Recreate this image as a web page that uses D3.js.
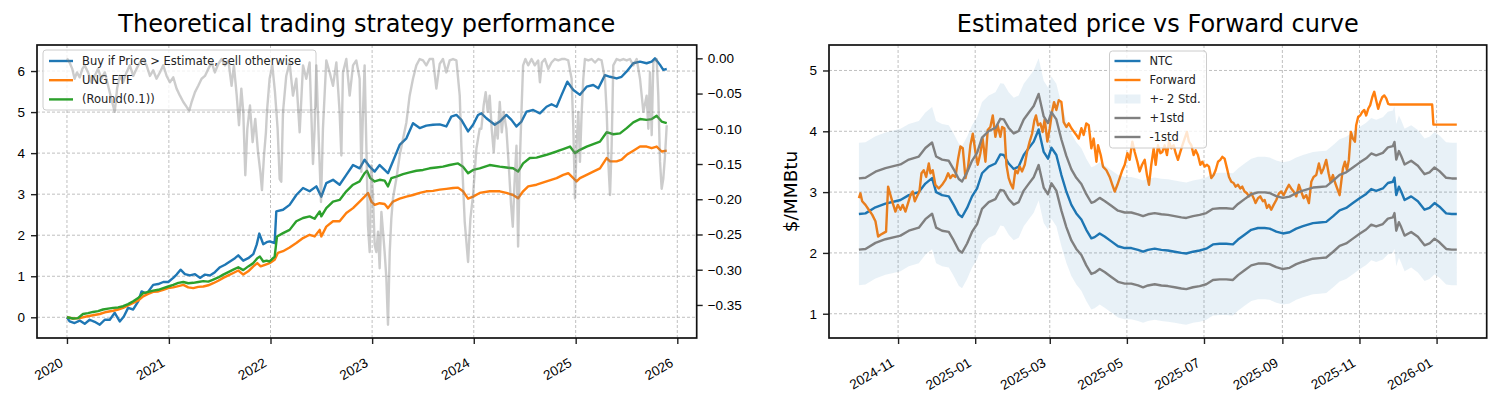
<!DOCTYPE html>
<html lang="en">
<head>
<meta charset="UTF-8">
<title>Strategy performance</title>
<script src="https://cdn.jsdelivr.net/npm/d3@7/dist/d3.min.js"></script>
<style>
    body { margin: 0; background: #fff; }
    svg { font-family: "DejaVu Sans", sans-serif; }
    .grid line { stroke: #b0b0b0; stroke-width: 0.8; stroke-dasharray: 3,2; }
    .axis text { font-size: 13.5px; fill: #000; }
    .axis line { stroke: #222; stroke-width: 1.4; }
    .axis path { display: none; }
    .legend text { font-size: 11.5px; fill: #222; }
</style>
</head>
<body>
<svg id="chart" width="1502" height="408"></svg>
<script>
// ---- left panel: cumulative returns, time as decimal year ----
var strategy = [[2020.000,0.00],[2020.026,-0.10],[2020.075,-0.14],[2020.125,-0.08],[2020.174,-0.16],[2020.223,-0.06],[2020.272,-0.11],[2020.322,-0.18],[2020.371,-0.06],[2020.420,-0.06],[2020.469,0.11],[2020.518,-0.10],[2020.558,0.02],[2020.600,0.23],[2020.650,0.19],[2020.699,0.39],[2020.732,0.63],[2020.781,0.57],[2020.846,0.79],[2020.896,0.81],[2020.945,0.86],[2020.994,0.86],[2021.043,0.96],[2021.076,1.04],[2021.115,1.16],[2021.158,1.05],[2021.207,1.02],[2021.257,1.05],[2021.306,0.96],[2021.355,1.04],[2021.404,1.02],[2021.453,1.10],[2021.503,1.22],[2021.552,1.28],[2021.601,1.36],[2021.650,1.44],[2021.683,1.51],[2021.732,1.38],[2021.781,1.44],[2021.831,1.54],[2021.864,1.77],[2021.890,2.04],[2021.929,1.78],[2021.962,1.83],[2021.991,1.85],[2022.041,1.81],[2022.057,2.58],[2022.123,2.62],[2022.188,2.74],[2022.254,2.98],[2022.320,3.15],[2022.385,3.07],[2022.451,3.19],[2022.500,2.94],[2022.549,3.27],[2022.615,3.35],[2022.680,3.23],[2022.746,3.47],[2022.812,3.71],[2022.877,3.63],[2022.926,3.84],[2022.976,3.67],[2023.025,3.55],[2023.074,3.71],[2023.123,3.59],[2023.156,3.51],[2023.205,3.80],[2023.271,4.20],[2023.337,4.36],[2023.402,4.73],[2023.468,4.61],[2023.533,4.67],[2023.599,4.69],[2023.665,4.70],[2023.730,4.65],[2023.779,4.89],[2023.829,4.93],[2023.878,4.81],[2023.944,4.53],[2023.993,4.69],[2024.042,4.93],[2024.075,4.97],[2024.124,4.85],[2024.206,4.69],[2024.255,4.77],[2024.320,4.93],[2024.370,4.81],[2024.419,4.65],[2024.468,4.77],[2024.517,5.01],[2024.583,5.05],[2024.649,4.97],[2024.714,5.13],[2024.763,5.19],[2024.813,5.13],[2024.862,5.42],[2024.918,5.74],[2024.977,5.54],[2025.042,5.42],[2025.108,5.62],[2025.173,5.66],[2025.223,5.58],[2025.288,5.90],[2025.338,5.86],[2025.403,5.82],[2025.452,5.86],[2025.502,5.99],[2025.567,6.19],[2025.633,6.23],[2025.698,6.19],[2025.748,6.23],[2025.780,6.31],[2025.830,6.15],[2025.862,6.03],[2025.896,6.05]];

var ung = [[2020.000,0.00],[2020.059,-0.03],[2020.125,-0.02],[2020.190,0.02],[2020.256,0.05],[2020.322,0.08],[2020.387,0.13],[2020.453,0.16],[2020.502,0.19],[2020.551,0.23],[2020.600,0.29],[2020.650,0.35],[2020.699,0.41],[2020.748,0.51],[2020.797,0.57],[2020.846,0.62],[2020.896,0.63],[2020.945,0.67],[2020.994,0.71],[2021.043,0.73],[2021.093,0.76],[2021.142,0.79],[2021.191,0.73],[2021.240,0.71],[2021.289,0.74],[2021.339,0.75],[2021.388,0.78],[2021.437,0.83],[2021.486,0.89],[2021.535,0.96],[2021.585,1.02],[2021.634,1.08],[2021.683,1.14],[2021.732,1.04],[2021.781,1.12],[2021.831,1.24],[2021.870,1.32],[2021.903,1.24],[2021.946,1.28],[2021.991,1.32],[2022.041,1.40],[2022.073,1.57],[2022.123,1.61],[2022.188,1.70],[2022.254,1.81],[2022.320,1.93],[2022.385,2.01],[2022.434,1.97],[2022.484,2.13],[2022.500,1.97],[2022.549,2.21],[2022.615,2.34],[2022.680,2.34],[2022.746,2.54],[2022.812,2.66],[2022.877,2.82],[2022.926,2.94],[2022.959,3.03],[2022.992,2.82],[2023.025,2.74],[2023.074,2.78],[2023.123,2.76],[2023.156,2.66],[2023.205,2.82],[2023.271,2.89],[2023.337,2.94],[2023.402,2.98],[2023.468,3.03],[2023.533,3.07],[2023.599,3.08],[2023.665,3.11],[2023.730,3.13],[2023.796,3.15],[2023.845,3.16],[2023.894,3.07],[2023.944,2.89],[2023.993,2.94],[2024.058,3.03],[2024.156,3.07],[2024.255,3.07],[2024.320,3.03],[2024.386,2.98],[2024.435,2.90],[2024.484,3.07],[2024.534,3.19],[2024.616,3.23],[2024.714,3.31],[2024.813,3.39],[2024.878,3.47],[2024.927,3.51],[2024.977,3.39],[2025.009,3.31],[2025.042,3.39],[2025.108,3.47],[2025.173,3.55],[2025.239,3.63],[2025.305,3.88],[2025.338,3.80],[2025.403,3.80],[2025.452,3.84],[2025.502,3.96],[2025.567,4.06],[2025.633,4.16],[2025.698,4.16],[2025.748,4.12],[2025.797,4.16],[2025.846,4.04],[2025.896,4.06]];

var rounded = [[2020.000,0.00],[2020.059,-0.03],[2020.108,-0.02],[2020.157,0.08],[2020.207,0.10],[2020.256,0.13],[2020.305,0.15],[2020.354,0.19],[2020.404,0.21],[2020.453,0.23],[2020.502,0.24],[2020.551,0.27],[2020.600,0.32],[2020.650,0.39],[2020.699,0.47],[2020.748,0.59],[2020.797,0.62],[2020.846,0.65],[2020.896,0.67],[2020.945,0.71],[2020.994,0.75],[2021.043,0.79],[2021.093,0.84],[2021.142,0.86],[2021.191,0.83],[2021.240,0.84],[2021.289,0.86],[2021.339,0.88],[2021.388,0.87],[2021.437,0.92],[2021.486,0.97],[2021.535,1.04],[2021.585,1.10],[2021.634,1.16],[2021.683,1.22],[2021.732,1.15],[2021.781,1.24],[2021.831,1.32],[2021.870,1.44],[2021.896,1.48],[2021.929,1.36],[2021.962,1.38],[2021.991,1.36],[2022.041,1.48],[2022.064,1.97],[2022.123,2.05],[2022.188,2.13],[2022.254,2.34],[2022.320,2.42],[2022.385,2.46],[2022.434,2.40],[2022.484,2.58],[2022.500,2.46],[2022.549,2.66],[2022.615,2.82],[2022.680,2.86],[2022.746,3.07],[2022.812,3.23],[2022.877,3.31],[2022.926,3.51],[2022.949,3.57],[2022.982,3.39],[2023.025,3.31],[2023.074,3.35],[2023.123,3.33],[2023.156,3.19],[2023.189,3.39],[2023.238,3.43],[2023.304,3.49],[2023.369,3.53],[2023.435,3.57],[2023.501,3.59],[2023.566,3.63],[2023.632,3.65],[2023.697,3.67],[2023.763,3.71],[2023.845,3.75],[2023.894,3.67],[2023.944,3.51],[2023.993,3.59],[2024.058,3.63],[2024.156,3.71],[2024.255,3.67],[2024.320,3.65],[2024.386,3.63],[2024.435,3.55],[2024.484,3.75],[2024.550,3.88],[2024.616,3.89],[2024.714,3.96],[2024.813,4.04],[2024.878,4.10],[2024.944,4.16],[2024.993,4.00],[2025.042,4.08],[2025.108,4.16],[2025.173,4.22],[2025.239,4.28],[2025.305,4.51],[2025.370,4.46],[2025.436,4.48],[2025.502,4.61],[2025.567,4.75],[2025.633,4.83],[2025.698,4.81],[2025.748,4.83],[2025.797,4.91],[2025.846,4.77],[2025.896,4.73]];

// drawdown of the strategy, right axis
var drawdown = [[2020.000,0.000],[2020.026,-0.006],[2020.052,-0.015],[2020.075,-0.029],[2020.098,-0.020],[2020.125,-0.027],[2020.151,-0.015],[2020.174,-0.010],[2020.207,-0.020],[2020.240,-0.034],[2020.272,-0.025],[2020.305,-0.015],[2020.338,-0.029],[2020.371,-0.020],[2020.404,-0.039],[2020.436,-0.058],[2020.469,-0.076],[2020.492,-0.043],[2020.518,-0.025],[2020.551,-0.034],[2020.584,-0.020],[2020.617,-0.010],[2020.650,-0.025],[2020.682,-0.015],[2020.715,-0.006],[2020.748,-0.001],[2020.781,-0.010],[2020.814,-0.025],[2020.846,-0.017],[2020.879,-0.029],[2020.912,-0.020],[2020.945,-0.010],[2020.978,-0.025],[2021.010,-0.034],[2021.043,-0.027],[2021.076,-0.043],[2021.109,-0.053],[2021.142,-0.062],[2021.175,-0.069],[2021.201,-0.074],[2021.224,-0.062],[2021.257,-0.048],[2021.289,-0.039],[2021.322,-0.029],[2021.355,-0.025],[2021.388,-0.015],[2021.421,-0.006],[2021.453,-0.020],[2021.486,-0.008],[2021.519,-0.001],[2021.552,-0.010],[2021.585,-0.003],[2021.617,-0.039],[2021.640,-0.010],[2021.667,-0.052],[2021.690,-0.095],[2021.713,-0.043],[2021.732,-0.076],[2021.752,-0.166],[2021.772,-0.100],[2021.798,-0.067],[2021.824,-0.119],[2021.850,-0.086],[2021.877,-0.133],[2021.900,-0.161],[2021.916,-0.187],[2021.936,-0.138],[2021.955,-0.105],[2021.965,-0.076],[2021.991,-0.029],[2022.018,-0.010],[2022.044,-0.048],[2022.070,-0.100],[2022.090,-0.171],[2022.106,-0.175],[2022.123,-0.076],[2022.155,-0.025],[2022.188,-0.006],[2022.221,-0.053],[2022.254,-0.029],[2022.287,-0.105],[2022.320,-0.010],[2022.352,-0.029],[2022.385,-0.006],[2022.418,-0.150],[2022.434,-0.100],[2022.451,-0.010],[2022.477,-0.124],[2022.497,-0.204],[2022.516,-0.100],[2022.549,-0.003],[2022.582,-0.020],[2022.615,-0.039],[2022.648,-0.006],[2022.680,-0.076],[2022.697,-0.138],[2022.713,-0.020],[2022.746,-0.001],[2022.779,-0.053],[2022.812,-0.010],[2022.844,-0.003],[2022.877,-0.029],[2022.894,-0.161],[2022.910,-0.076],[2022.926,-0.010],[2022.943,-0.124],[2022.959,-0.237],[2022.976,-0.275],[2022.992,-0.152],[2023.008,-0.194],[2023.025,-0.265],[2023.041,-0.275],[2023.058,-0.246],[2023.074,-0.298],[2023.091,-0.218],[2023.107,-0.246],[2023.123,-0.275],[2023.140,-0.312],[2023.156,-0.378],[2023.173,-0.275],[2023.189,-0.227],[2023.205,-0.199],[2023.238,-0.171],[2023.271,-0.138],[2023.304,-0.114],[2023.337,-0.091],[2023.369,-0.053],[2023.402,-0.029],[2023.435,-0.010],[2023.468,-0.001],[2023.501,-0.003],[2023.533,-0.010],[2023.566,-0.001],[2023.599,-0.001],[2023.632,-0.043],[2023.665,-0.008],[2023.697,-0.001],[2023.730,-0.020],[2023.763,-0.003],[2023.796,-0.001],[2023.829,-0.003],[2023.862,-0.053],[2023.878,-0.124],[2023.911,-0.232],[2023.944,-0.289],[2023.967,-0.227],[2023.993,-0.194],[2024.026,-0.128],[2024.058,-0.100],[2024.074,-0.100],[2024.097,-0.067],[2024.117,-0.048],[2024.137,-0.076],[2024.156,-0.053],[2024.176,-0.100],[2024.196,-0.133],[2024.215,-0.091],[2024.235,-0.114],[2024.255,-0.062],[2024.275,-0.105],[2024.294,-0.076],[2024.320,-0.100],[2024.347,-0.161],[2024.366,-0.208],[2024.383,-0.239],[2024.399,-0.180],[2024.419,-0.124],[2024.435,-0.267],[2024.452,-0.147],[2024.468,-0.076],[2024.484,-0.010],[2024.507,-0.001],[2024.534,-0.010],[2024.567,-0.001],[2024.599,-0.010],[2024.632,-0.003],[2024.649,-0.034],[2024.668,-0.006],[2024.698,-0.001],[2024.731,-0.015],[2024.763,-0.006],[2024.796,-0.001],[2024.829,-0.003],[2024.862,-0.001],[2024.895,-0.001],[2024.927,-0.003],[2024.960,-0.029],[2024.977,-0.100],[2024.993,-0.199],[2025.009,-0.124],[2025.026,-0.076],[2025.042,-0.147],[2025.059,-0.076],[2025.075,-0.029],[2025.091,-0.001],[2025.124,-0.003],[2025.157,-0.001],[2025.190,-0.006],[2025.223,-0.001],[2025.255,-0.003],[2025.288,-0.029],[2025.305,-0.076],[2025.321,-0.147],[2025.338,-0.194],[2025.354,-0.124],[2025.370,-0.010],[2025.403,-0.001],[2025.436,-0.003],[2025.469,-0.001],[2025.502,-0.003],[2025.534,-0.001],[2025.567,-0.010],[2025.600,-0.001],[2025.633,-0.029],[2025.666,-0.076],[2025.698,-0.053],[2025.715,-0.100],[2025.731,-0.020],[2025.748,-0.109],[2025.764,-0.006],[2025.797,-0.001],[2025.813,-0.053],[2025.830,-0.147],[2025.846,-0.185],[2025.862,-0.171],[2025.879,-0.138],[2025.896,-0.095]];

var leftLabels = ["Buy if Price > Estimate, sell otherwise", "UNG ETF", "(Round(0.1))"];
var leftTicks = [0, 1, 2, 3, 4, 5, 6];
var ddTicks = [0, -0.05, -0.10, -0.15, -0.20, -0.25, -0.30, -0.35];

// ---- right panel: day index counted from startDay ----
var startDay = "2024-10-01";
var ntc = [[0,2.64],[5.2,2.65],[13.1,2.75],[21.0,2.81],[28.9,2.85],[32.9,2.87],[39.5,2.95],[47.4,3.00],[52.6,3.14],[57.9,3.23],[61.1,3.00],[65.8,2.95],[71.1,2.93],[75.0,2.79],[79.0,2.63],[81.6,2.59],[85.6,2.74],[89.5,2.93],[93.5,3.06],[97.4,3.31],[102.7,3.42],[108.0,3.47],[111.9,3.62],[114.6,3.61],[118.5,3.47],[122.5,3.38],[126.4,3.42],[130.4,3.61],[134.3,3.72],[138.3,3.83],[142.2,4.03],[146.2,3.66],[149.6,3.55],[152.3,3.73],[156.2,3.61],[160.2,3.28],[164.1,3.01],[168.1,2.79],[172.0,2.65],[176.0,2.55],[179.9,2.38],[183.9,2.24],[186.5,2.26],[190.5,2.32],[194.4,2.27],[199.7,2.19],[205.0,2.11],[210.3,2.08],[215.5,2.08],[220.8,2.05],[224.8,2.02],[228.7,2.05],[234.0,2.07],[239.3,2.05],[244.5,2.04],[249.8,2.02],[255.1,2.00],[259.0,1.99],[264.3,2.02],[269.6,2.04],[274.8,2.07],[280.1,2.14],[285.4,2.15],[290.6,2.15],[295.9,2.14],[299.9,2.22],[305.1,2.30],[310.4,2.38],[315.7,2.41],[321.0,2.41],[324.9,2.40],[330.2,2.35],[335.4,2.32],[340.7,2.34],[346.0,2.40],[351.3,2.44],[359.2,2.49],[364.4,2.50],[369.7,2.51],[375.0,2.60],[380.3,2.70],[385.5,2.74],[390.8,2.82],[396.1,2.90],[401.3,2.97],[405.3,3.05],[409.2,3.02],[414.5,3.06],[418.5,3.15],[422.4,3.17],[423.7,3.24],[425.1,2.95],[427.2,3.09],[429.0,3.01],[431.7,2.87],[436.9,2.93],[442.2,2.85],[447.5,2.71],[451.4,2.74],[455.4,2.82],[459.3,2.76],[464.6,2.65],[469.0,2.64],[473.0,2.64]];
var ntcStd = 0.585;

var forward = [[0,2.90],[1.2,2.98],[2.6,2.85],[5.2,2.79],[7.8,2.71],[10.5,2.63],[13.1,2.52],[15.2,2.27],[17.1,2.30],[19.7,2.33],[21.5,2.35],[23.1,3.09],[25.0,2.95],[26.8,2.82],[28.9,2.68],[30.8,2.79],[32.9,2.71],[34.7,2.79],[36.8,2.68],[38.9,2.82],[40.8,2.95],[42.6,3.01],[44.2,2.85],[46.0,2.93],[47.9,3.01],[49.5,3.31],[51.3,3.36],[53.2,3.25],[55.3,3.47],[56.6,3.31],[58.4,3.36],[60.5,3.12],[63.2,3.06],[65.8,3.12],[68.4,3.20],[70.6,3.31],[72.4,3.23],[74.2,3.28],[76.4,3.25],[78.5,3.55],[80.3,3.75],[82.2,3.72],[84.3,3.23],[86.4,3.42],[88.2,3.77],[90.1,3.96],[92.2,3.66],[94.0,3.45],[96.1,3.64],[97.9,3.88],[100.1,3.50],[101.9,4.02],[104.0,4.07],[105.9,4.26],[108.0,3.91],[109.8,4.10],[111.9,3.91],[113.3,4.07],[115.1,4.05],[116.7,3.45],[118.5,3.23],[120.4,3.12],[121.9,3.06],[123.8,3.36],[125.6,3.31],[127.2,3.42],[129.1,3.34],[131.2,3.45],[133.0,3.66],[135.1,3.83],[137.0,3.96],[138.8,4.18],[140.1,4.26],[141.7,4.10],[143.6,4.13],[145.4,3.99],[147.0,4.20],[149.1,3.83],[151.0,4.05],[152.8,4.32],[154.4,4.48],[156.2,4.35],[158.1,4.51],[160.2,4.48],[162.0,4.15],[164.1,4.07],[166.0,4.13],[168.1,4.05],[170.2,3.99],[172.0,3.94],[173.9,3.88],[176.0,4.05],[177.8,3.94],[179.9,4.13],[181.8,4.10],[183.9,3.72],[185.7,3.88],[187.9,3.50],[189.2,3.77],[191.3,3.61],[193.1,3.42],[195.8,3.36],[198.4,3.25],[200.5,3.12],[202.4,3.01],[204.5,3.12],[206.3,3.23],[208.4,3.36],[210.3,3.45],[212.4,3.64],[214.2,3.53],[216.3,3.83],[218.2,3.66],[220.3,3.50],[222.1,3.34],[224.0,3.45],[226.1,3.53],[227.9,3.28],[229.5,3.12],[231.3,3.45],[233.2,3.72],[234.8,3.45],[236.6,3.77],[238.5,3.64],[240.0,3.66],[241.9,3.77],[243.7,3.61],[245.3,3.83],[247.2,3.72],[249.0,3.77],[250.6,3.64],[252.4,3.53],[254.3,3.66],[255.9,3.77],[257.7,3.88],[259.5,3.99],[261.1,3.83],[263.0,3.77],[264.8,3.61],[266.4,3.69],[268.2,3.61],[270.1,3.45],[271.7,3.50],[273.5,3.42],[275.4,3.45],[276.9,3.42],[278.8,3.23],[280.6,3.28],[282.2,3.36],[284.1,3.50],[285.9,3.53],[287.5,3.58],[289.3,3.55],[291.2,3.39],[292.8,3.25],[294.6,3.17],[296.4,3.15],[298.0,3.09],[299.9,3.12],[301.7,3.06],[303.3,3.09],[305.1,3.01],[307.0,2.98],[308.6,2.93],[310.4,2.98],[312.3,2.90],[313.8,2.82],[315.7,2.90],[317.5,2.93],[319.6,2.85],[321.0,2.87],[322.8,2.74],[324.4,2.79],[326.2,2.71],[328.1,2.79],[330.2,2.87],[332.3,2.98],[334.1,3.01],[336.0,2.95],[338.1,3.04],[340.2,3.12],[342.0,3.06],[343.9,3.01],[346.0,2.93],[348.1,3.12],[349.9,3.01],[351.8,2.90],[353.9,2.95],[356.0,2.82],[357.9,3.17],[359.7,3.25],[361.8,3.28],[363.9,3.47],[365.8,3.31],[367.6,3.39],[369.7,3.53],[371.6,3.31],[373.1,3.17],[375.0,3.28],[376.8,3.15],[378.4,3.06],[380.3,2.95],[381.6,3.17],[382.9,3.39],[384.5,3.50],[386.1,3.36],[387.6,3.53],[389.2,3.99],[390.8,3.88],[392.4,3.83],[393.4,4.10],[395.0,4.24],[396.6,4.26],[398.2,4.32],[399.8,4.35],[401.3,4.26],[402.9,4.37],[404.5,4.43],[406.1,4.56],[407.7,4.65],[409.2,4.51],[410.8,4.37],[412.4,4.48],[414.0,4.56],[415.6,4.59],[417.2,4.54],[418.7,4.45],[420.3,4.44],[453.5,4.44],[454.5,4.11],[473.0,4.11]];

var rightLabels = ["NTC", "Forward", "+- 2 Std.", "+1std", "-1std"];
var rightTicks = [1, 2, 3, 4, 5];

var C = { blue: "#1f77b4", orange: "#ff7f0e", green: "#2ca02c", gray: "#808080" };
var LW = 2.4;

var svg = d3.select("#chart");

function yearToDate(t) {
    var y = Math.floor(t);
    var a = Date.UTC(y, 0, 1), b = Date.UTC(y + 1, 0, 1);
    return new Date(a + (t - y) * (b - a));
}
var day0 = Date.parse(startDay + "T00:00:00Z");
function dayToDate(d) { return new Date(day0 + d * 864e5); }

// matplotlib style 5% margins
function padded(lo, hi) {
    var m = (hi - lo) * 0.05;
    return [lo - m, hi + m];
}

function frame(g, w, h) {
    g.append("rect").attr("width", w).attr("height", h)
        .attr("fill", "none").attr("stroke", "#111").attr("stroke-width", 1.7);
}

function rotateLabels(axisG) {
    axisG.selectAll(".tick text")
        .attr("text-anchor", "end")
        .attr("x", 0).attr("y", 0).attr("dy", 0)
        .attr("transform", "translate(-3.5,27.5) rotate(-30)");
}

// ================= left panel =================
var L = { x: 37, y: 45, w: 659.7, h: 293 };
var gl = svg.append("g").attr("transform", "translate(" + L.x + "," + L.y + ")");

var allLeft = strategy.concat(ung, rounded);
var tx = padded(d3.min(allLeft, function (d) { return d[0]; }), d3.max(allLeft, function (d) { return d[0]; }));
var xl = d3.scaleUtc().domain([yearToDate(tx[0]), yearToDate(tx[1])]).range([0, L.w]);
var yl = d3.scaleLinear()
    .domain(padded(d3.min(allLeft, function (d) { return d[1]; }), d3.max(allLeft, function (d) { return d[1]; })))
    .range([L.h, 0]);
var yd = d3.scaleLinear()
    .domain(padded(d3.min(drawdown, function (d) { return d[1]; }), d3.max(drawdown, function (d) { return d[1]; })))
    .range([L.h, 0]);

var yearTicks = xl.ticks(d3.utcYear.every(1));

gl.append("g").attr("class", "grid")
    .selectAll("line.v").data(yearTicks).enter().append("line")
    .attr("x1", function (d) { return xl(d); }).attr("x2", function (d) { return xl(d); })
    .attr("y1", 0).attr("y2", L.h);
gl.append("g").attr("class", "grid")
    .selectAll("line.h").data(leftTicks).enter().append("line")
    .attr("x1", 0).attr("x2", L.w)
    .attr("y1", function (d) { return yl(d); }).attr("y2", function (d) { return yl(d); });

var clipL = gl.append("clipPath").attr("id", "clipL");
clipL.append("rect").attr("width", L.w).attr("height", L.h);

var lineL = d3.line()
    .x(function (d) { return xl(yearToDate(d[0])); })
    .y(function (d) { return yl(d[1]); });

var leftSeries = [strategy, ung, rounded];
var leftColors = [C.blue, C.orange, C.green];
var plotL = gl.append("g").attr("clip-path", "url(#clipL)");
leftSeries.forEach(function (s, i) {
    plotL.append("path").datum(s)
        .attr("d", lineL)
        .attr("fill", "none")
        .attr("stroke", leftColors[i])
        .attr("stroke-width", LW)
        .attr("stroke-linejoin", "round");
});

// legend (primary axes, so the twin drawdown line goes over it)
var legL = gl.append("g").attr("class", "legend").attr("transform", "translate(6,5)");
legL.append("rect").attr("width", 273).attr("height", 60).attr("rx", 3)
    .attr("fill", "#fff").attr("fill-opacity", 0.8).attr("stroke", "#ccc");
leftLabels.forEach(function (t, i) {
    var yy = 11 + i * 19.2;
    legL.append("line").attr("x1", 6).attr("x2", 30).attr("y1", yy).attr("y2", yy)
        .attr("stroke", leftColors[i]).attr("stroke-width", LW);
    legL.append("text").attr("x", 39).attr("y", yy + 4).text(t);
});

var lineD = d3.line()
    .x(function (d) { return xl(yearToDate(d[0])); })
    .y(function (d) { return yd(d[1]); });
gl.append("g").attr("clip-path", "url(#clipL)")
    .append("path").datum(drawdown)
    .attr("d", lineD)
    .attr("fill", "none")
    .attr("stroke", C.gray)
    .attr("stroke-opacity", 0.4)
    .attr("stroke-width", LW)
    .attr("stroke-linejoin", "round");

var axLx = gl.append("g").attr("class", "axis").attr("transform", "translate(0," + L.h + ")")
    .call(d3.axisBottom(xl).tickValues(yearTicks).tickFormat(d3.utcFormat("%Y")).tickSize(6).tickPadding(3));
rotateLabels(axLx);
gl.append("g").attr("class", "axis")
    .call(d3.axisLeft(yl).tickValues(leftTicks).tickFormat(d3.format("d")).tickSize(6).tickPadding(6));
gl.append("g").attr("class", "axis").attr("transform", "translate(" + L.w + ",0)")
    .call(d3.axisRight(yd).tickValues(ddTicks).tickFormat(d3.format(".2f")).tickSize(6).tickPadding(5));
frame(gl, L.w, L.h);

svg.append("text").attr("x", L.x + L.w / 2).attr("y", 32)
    .attr("text-anchor", "middle").attr("font-size", 24).attr("fill", "#000")
    .text("Theoretical trading strategy performance");

// ================= right panel =================
var R = { x: 829, y: 45, w: 657.7, h: 293 };
var gr = svg.append("g").attr("transform", "translate(" + R.x + "," + R.y + ")");

var td = padded(d3.min(ntc, function (d) { return d[0]; }), d3.max(ntc, function (d) { return d[0]; }));
var xr = d3.scaleUtc().domain([dayToDate(td[0]), dayToDate(td[1])]).range([0, R.w]);
var lo = d3.min(ntc, function (d) { return d[1] - 2 * ntcStd; });
var hi = d3.max([d3.max(ntc, function (d) { return d[1] + 2 * ntcStd; }), d3.max(forward, function (d) { return d[1]; })]);
var yr = d3.scaleLinear().domain(padded(lo, hi)).range([R.h, 0]);

var monthTicks = xr.ticks(d3.utcMonth.every(2));

gr.append("g").attr("class", "grid")
    .selectAll("line").data(monthTicks).enter().append("line")
    .attr("x1", function (d) { return xr(d); }).attr("x2", function (d) { return xr(d); })
    .attr("y1", 0).attr("y2", R.h);
gr.append("g").attr("class", "grid")
    .selectAll("line").data(rightTicks).enter().append("line")
    .attr("x1", 0).attr("x2", R.w)
    .attr("y1", function (d) { return yr(d); }).attr("y2", function (d) { return yr(d); });

var clipR = gr.append("clipPath").attr("id", "clipR");
clipR.append("rect").attr("width", R.w).attr("height", R.h);
var plotR = gr.append("g").attr("clip-path", "url(#clipR)");

function lineR(k) {
    return d3.line()
        .x(function (d) { return xr(dayToDate(d[0])); })
        .y(function (d) { return yr(d[1] + k * ntcStd); });
}

plotR.append("path").datum(ntc).attr("d", lineR(0))
    .attr("fill", "none").attr("stroke", C.blue).attr("stroke-width", LW).attr("stroke-linejoin", "round");
plotR.append("path").datum(forward).attr("d", lineR(0))
    .attr("fill", "none").attr("stroke", C.orange).attr("stroke-width", LW).attr("stroke-linejoin", "round");
plotR.append("path").datum(ntc)
    .attr("d", d3.area()
        .x(function (d) { return xr(dayToDate(d[0])); })
        .y0(function (d) { return yr(d[1] - 2 * ntcStd); })
        .y1(function (d) { return yr(d[1] + 2 * ntcStd); }))
    .attr("fill", C.blue).attr("fill-opacity", 0.1);
plotR.append("path").datum(ntc).attr("d", lineR(1))
    .attr("fill", "none").attr("stroke", C.gray).attr("stroke-width", LW).attr("stroke-linejoin", "round");
plotR.append("path").datum(ntc).attr("d", lineR(-1))
    .attr("fill", "none").attr("stroke", C.gray).attr("stroke-width", LW).attr("stroke-linejoin", "round");

var axRx = gr.append("g").attr("class", "axis").attr("transform", "translate(0," + R.h + ")")
    .call(d3.axisBottom(xr).tickValues(monthTicks).tickFormat(d3.utcFormat("%Y-%m")).tickSize(6).tickPadding(3));
rotateLabels(axRx);
gr.append("g").attr("class", "axis")
    .call(d3.axisLeft(yr).tickValues(rightTicks).tickFormat(d3.format("d")).tickSize(6).tickPadding(6));
frame(gr, R.w, R.h);

var legR = gr.append("g").attr("class", "legend").attr("transform", "translate(280.5,6)");
legR.append("rect").attr("width", 97).attr("height", 97).attr("rx", 3)
    .attr("fill", "#fff").attr("fill-opacity", 0.8).attr("stroke", "#ccc");
var rightSwatch = [C.blue, C.orange, null, C.gray, C.gray];
rightLabels.forEach(function (t, i) {
    var yy = 10 + i * 19;
    if (rightSwatch[i]) {
        legR.append("line").attr("x1", 5).attr("x2", 31).attr("y1", yy).attr("y2", yy)
            .attr("stroke", rightSwatch[i]).attr("stroke-width", LW);
    } else {
        legR.append("rect").attr("x", 5).attr("y", yy - 4.5).attr("width", 26).attr("height", 9)
            .attr("fill", C.blue).attr("fill-opacity", 0.1);
    }
    legR.append("text").attr("x", 40).attr("y", yy + 4).text(t);
});

svg.append("text").attr("x", R.x + R.w / 2).attr("y", 32)
    .attr("text-anchor", "middle").attr("font-size", 24).attr("fill", "#000")
    .text("Estimated price vs Forward curve");

svg.append("text").attr("transform", "translate(797," + (R.y + R.h / 2) + ") rotate(-90)")
    .attr("text-anchor", "middle").attr("font-size", 18.5).attr("fill", "#000")
    .text("$/MMBtu");
</script>
</body>
</html>
